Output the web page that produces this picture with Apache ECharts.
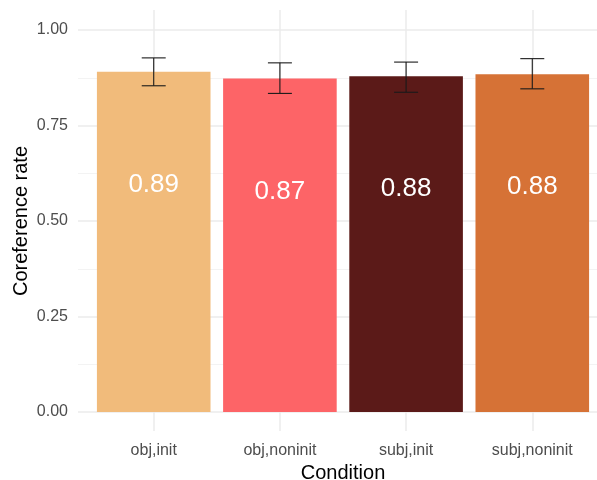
<!DOCTYPE html>
<html>
<head>
<meta charset="utf-8">
<script src="https://cdn.jsdelivr.net/npm/echarts@6/dist/echarts.min.js"></script>
<style>
  html, body { margin: 0; padding: 0; background: #ffffff; }
  #chart { width: 597px; height: 480px; }
</style>
</head>
<body>
<div id="chart"></div>
<script>
// Coreference rate by condition, with error bars
const categories = ['obj,init', 'obj,noninit', 'subj,init', 'subj,noninit'];
const rates = [0.891, 0.873, 0.879, 0.884];
const errLower = [0.854, 0.834, 0.837, 0.846];
const errUpper = [0.927, 0.914, 0.916, 0.925];
const barColors = ['#F1BB7B', '#FD6467', '#5B1A18', '#D67236'];
const yTicks = [0, 0.25, 0.5, 0.75, 1];

const FONT = 'Liberation Sans, Arial, sans-serif';
const GRID_LINE = '#EBEBEB';
const ERR_WIDTH = 0.19; // whisker width in category units
const PANEL_LEFT = 78;
const PANEL_WIDTH = 530; // panel runs past the right edge of the canvas

const barData = rates.map((v, i) => [i + 1, v]);
const errData = categories.map((c, i) => [i + 1, errLower[i], errUpper[i]]);

const chart = echarts.init(document.getElementById('chart'), null, { renderer: 'canvas' });

chart.setOption({
  backgroundColor: '#ffffff',
  animation: false,
  grid: [
    // full panel (with ggplot-style expansion): vertical grid lines, x labels
    { left: PANEL_LEFT, width: PANEL_WIDTH, top: 10, bottom: 49, outerBoundsMode: 'none', containLabel: false },
    // 0..1 data range: bars, error bars, y labels, horizontal grid lines
    { left: PANEL_LEFT, width: PANEL_WIDTH, top: 30, bottom: 68, outerBoundsMode: 'none', containLabel: false }
  ],
  xAxis: [
    {
      gridIndex: 0, type: 'value', min: 0.4, max: 4.6,
      axisLine: { show: false }, axisTick: { show: false },
      splitLine: { show: true, showMinLine: false, showMaxLine: false,
                   lineStyle: { color: GRID_LINE, width: 1.5 } },
      axisLabel: {
        margin: 12, color: '#4D4D4D', fontSize: 16, fontFamily: FONT,
        showMinLabel: false, showMaxLabel: false,
        formatter: v => Number.isInteger(v) && v >= 1 && v <= categories.length ? categories[v - 1] : ''
      },
      name: 'Condition', nameLocation: 'middle', nameGap: 31,
      nameTextStyle: { color: '#000000', fontSize: 20, fontFamily: FONT }
    },
    {
      gridIndex: 1, type: 'value', min: 0.4, max: 4.6, show: false,
      splitLine: { show: false }
    }
  ],
  yAxis: [
    { gridIndex: 0, type: 'value', min: -0.05, max: 1.05, show: false, splitLine: { show: false } },
    {
      gridIndex: 1, type: 'value', min: 0, max: 1, interval: 0.25,
      axisLine: { show: false }, axisTick: { show: false },
      axisLabel: {
        margin: 10, color: '#4D4D4D', fontSize: 16, fontFamily: FONT,
        formatter: v => yTicks.some(t => Math.abs(t - v) < 1e-9) ? v.toFixed(2) : ''
      },
      splitLine: { show: true, lineStyle: { color: GRID_LINE, width: 1.5 } },
      minorTick: { show: false, splitNumber: 2 },
      minorSplitLine: { show: true, lineStyle: { color: '#F3F3F3', width: 1 } },
      name: 'Coreference rate', nameLocation: 'middle', nameGap: 47, nameMoveOverlap: false,
      nameTextStyle: { color: '#000000', fontSize: 20, fontFamily: FONT }
    }
  ],
  series: [
    {
      type: 'bar', xAxisIndex: 1, yAxisIndex: 1,
      data: barData,
      barWidth: 113.6,
      itemStyle: { color: p => barColors[p.dataIndex] },
      label: {
        show: true,
        position: ['50%', 113],
        align: 'center', verticalAlign: 'middle',
        color: '#ffffff', fontSize: 26, fontFamily: FONT,
        formatter: p => p.value[1].toFixed(2)
      },
      z: 2
    },
    {
      type: 'custom', xAxisIndex: 1, yAxisIndex: 1,
      data: errData,
      z: 3,
      renderItem: (params, api) => {
        const x = api.value(0);
        const lo = api.coord([x, api.value(1)]);
        const hi = api.coord([x, api.value(2)]);
        const half = api.size([ERR_WIDTH, 0])[0] / 2;
        const style = { stroke: '#1a1a1a', lineWidth: 1.1 };
        return {
          type: 'group',
          children: [
            { type: 'line', shape: { x1: lo[0], y1: lo[1], x2: hi[0], y2: hi[1] }, style },
            { type: 'line', shape: { x1: hi[0] - half, y1: hi[1], x2: hi[0] + half, y2: hi[1] }, style },
            { type: 'line', shape: { x1: lo[0] - half, y1: lo[1], x2: lo[0] + half, y2: lo[1] }, style }
          ]
        };
      }
    }
  ]
});
</script>
</body>
</html>
